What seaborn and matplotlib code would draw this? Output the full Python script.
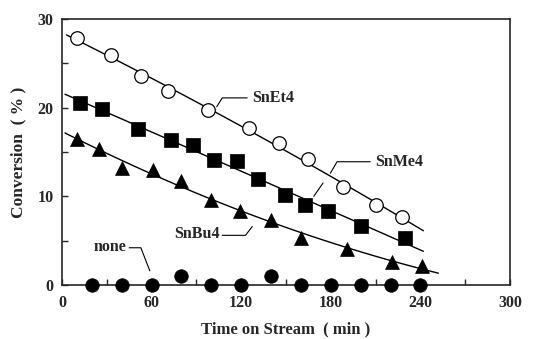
import numpy as np
import pandas as pd
import matplotlib
matplotlib.use("Agg")
import matplotlib.pyplot as plt
import seaborn as sns

# Conversion vs. time on stream for each tin additive
sneta_t = [10, 33, 53, 71, 98, 125, 145, 165, 188, 210, 228]
sneta_c = [27.8, 25.9, 23.6, 21.9, 19.7, 17.7, 16.0, 14.2, 11.0, 9.0, 7.7]

snme_t = [12, 27, 51, 73, 88, 102, 117, 131, 149, 163, 178, 200, 230]
snme_c = [20.5, 19.8, 17.6, 16.4, 15.8, 14.1, 14.0, 12.0, 10.2, 9.0, 8.3, 6.6, 5.3]

snbu_t = [10, 25, 40, 61, 80, 100, 119, 140, 160, 191, 221, 241]
snbu_c = [16.5, 15.3, 13.2, 13.0, 11.7, 9.6, 8.4, 7.3, 5.3, 4.1, 2.6, 2.1]

none_t = [20, 40, 60, 80, 100, 120, 140, 160, 180, 200, 220, 240]
none_c = [0, 0, 0, 1.0, 0, 0, 1.0, 0, 0, 0, 0, 0]

x_ticks = [0, 60, 120, 180, 240, 300]
y_ticks = [0, 10, 20, 30]

sns.set_style("ticks")
plt.rcParams["font.family"] = ["Liberation Serif", "DejaVu Serif"]
plt.rcParams["font.weight"] = "bold"

fig = plt.figure(figsize=(5.43, 3.39), dpi=100)
ax = fig.add_axes([0.1142, 0.1593, 0.8250, 0.7847])

# quadratic trend line through each series
fit_spans = {"SnEt4": (3, 242), "SnMe4": (2, 242), "SnBu4": (2, 252)}
series = {"SnEt4": (sneta_t, sneta_c), "SnMe4": (snme_t, snme_c), "SnBu4": (snbu_t, snbu_c)}
rows = []
for name, (t, c) in series.items():
    coef = np.polyfit(t, c, 2)
    xs = np.linspace(*fit_spans[name], 100)
    rows.append(pd.DataFrame({"t": xs, "c": np.polyval(coef, xs), "s": name}))
fits = pd.concat(rows, ignore_index=True)
sns.lineplot(data=fits, x="t", y="c", units="s", estimator=None, color="black",
             lw=1.0, ax=ax, legend=False)

pts = pd.concat([
    pd.DataFrame({"t": sneta_t, "c": sneta_c, "s": "SnEt4"}),
    pd.DataFrame({"t": snme_t, "c": snme_c, "s": "SnMe4"}),
    pd.DataFrame({"t": snbu_t, "c": snbu_c, "s": "SnBu4"}),
    pd.DataFrame({"t": none_t, "c": none_c, "s": "none"}),
], ignore_index=True)

styles = {
    "SnEt4": dict(marker="o", s=95, facecolor="white", edgecolor="black", linewidth=0.9),
    "SnMe4": dict(marker="s", s=100, facecolor="black", edgecolor="black", linewidth=0.5),
    "SnBu4": dict(marker="^", s=100, facecolor="black", edgecolor="black", linewidth=0.5),
    "none": dict(marker="o", s=95, facecolor="black", edgecolor="black", linewidth=0.5),
}
for name, st in styles.items():
    sub = pts[pts["s"] == name]
    sns.scatterplot(data=sub, x="t", y="c", ax=ax, clip_on=False, zorder=5, **st)

# labels with leader lines
lab_kw = dict(fontsize=11.5, fontweight="bold", va="center")
ax.plot([103.6, 107.3, 124], [20.1, 21.1, 21.1], color="black", lw=0.8)
ax.text(127.5, 21.1, "SnEt4", ha="left", **lab_kw)
ax.plot([168.6, 174.8], [10.0, 11.5], color="black", lw=0.8)
ax.plot([179.7, 184.2, 206.4], [12.6, 13.9, 13.9], color="black", lw=0.8)
ax.text(209.5, 13.9, "SnMe4", ha="left", **lab_kw)
ax.plot([107.3, 122.9, 127.4], [5.6, 5.6, 6.6], color="black", lw=0.8)
ax.text(105.5, 5.75, "SnBu4", ha="right", **lab_kw)
ax.plot([45, 52.8, 58.8], [4.2, 4.2, 1.6], color="black", lw=0.8)
ax.text(43, 4.3, "none", ha="right", **lab_kw)

ax.set_xlim(0, 300)
ax.set_ylim(0, 30)
ax.set_xticks(x_ticks)
ax.set_xticks([30, 90, 150, 210, 270], minor=True)
ax.set_yticks(y_ticks)
ax.set_yticks([5, 15, 25], minor=True)
ax.tick_params(which="both", direction="in", length=4, width=1.0,
               labelsize=11.5, top=False, right=False)
for lbl in ax.get_xticklabels() + ax.get_yticklabels():
    lbl.set_fontweight("bold")
ax.tick_params(axis="x", pad=7)
ax.tick_params(axis="y", pad=6)
for sp in ax.spines.values():
    sp.set_visible(True)
    sp.set_linewidth(1.2)
ax.set_xlabel("Time on Stream  ( min )", fontsize=12, fontweight="bold", labelpad=8)
ax.set_ylabel("Conversion  ( % )", fontsize=12.5, fontweight="bold", labelpad=8)

fig.savefig("out.png", dpi=100)
